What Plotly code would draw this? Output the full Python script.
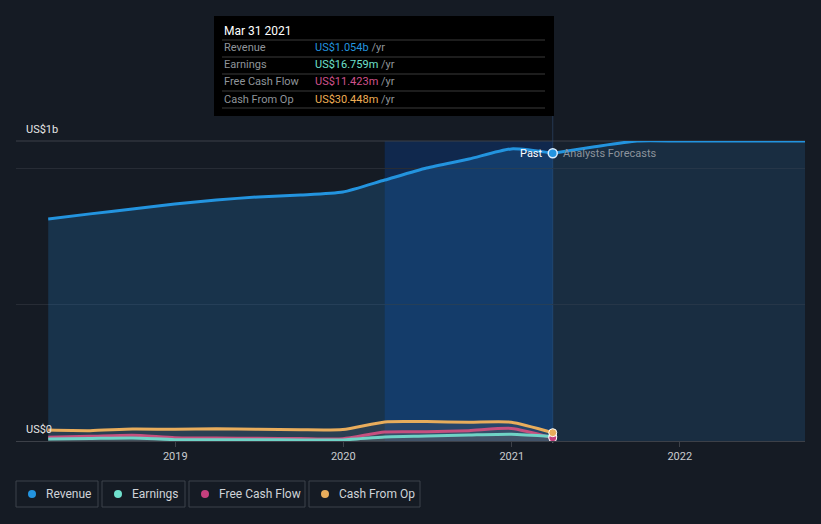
import plotly.graph_objects as go

# ---------------- data ----------------
past_dates = ["2018-03-31", "2018-06-30", "2018-09-30", "2018-12-31",
              "2019-03-31", "2019-06-30", "2019-09-30", "2019-12-31",
              "2020-03-31", "2020-06-30", "2020-09-30", "2020-12-31",
              "2021-03-31"]
revenue = [0.813e9, 0.832e9, 0.850e9, 0.868e9, 0.883e9, 0.894e9, 0.901e9,
           0.912e9, 0.956e9, 1.000e9, 1.033e9, 1.070e9, 1.054e9]
earnings = [7e6, 9e6, 11e6, 5e6, 5e6, 5e6, 4e6, 4e6, 15e6, 18e6, 22e6, 25e6, 16.759e6]
free_cash_flow = [14e6, 17e6, 21e6, 12e6, 11e6, 10e6, 9e6, 8e6, 33e6, 34e6, 38e6, 46e6, 11.423e6]
cash_from_op = [40e6, 38e6, 44e6, 43e6, 45e6, 43e6, 41e6, 42e6, 70e6, 71e6, 69e6, 69e6, 30.448e6]

fc_dates = ["2021-03-31", "2021-06-30", "2021-09-30", "2021-12-31",
            "2022-03-31", "2022-06-30", "2022-09-30"]
revenue_fc = [1.054e9, 1.078e9, 1.099e9, 1.099e9, 1.099e9, 1.099e9, 1.099e9]

tick_vals = ["2019-01-01", "2020-01-01", "2021-01-01", "2022-01-01"]
tick_text = ["2019", "2020", "2021", "2022"]

tooltip_date = "Mar 31 2021"
tooltip_rows = [("Revenue", "US$1.054b", "#2394df"),
                ("Earnings", "US$16.759m", "#6fe0cd"),
                ("Free Cash Flow", "US$11.423m", "#d0528c"),
                ("Cash From Op", "US$30.448m", "#eeae55")]

legend_items = [("Revenue", "#2394df"), ("Earnings", "#6fe0cd"),
                ("Free Cash Flow", "#c6407e"), ("Cash From Op", "#e8ad5c")]

# ---------------- layout helpers ----------------
W, H = 821, 524
L, R, T, B = 16, 805, 141, 441
BG = "#151b24"
FONT = "Roboto"


def px(x):
    return (x - L) / (R - L)


def py(y):
    return (B - y) / (B - T)


fig = go.Figure()

# revenue past
fig.add_trace(go.Scatter(
    x=past_dates, y=revenue, mode="lines",
    line=dict(color="#2394df", width=3, shape="spline", smoothing=0.6),
    fill="tozeroy", fillcolor="rgba(35,120,190,0.26)",
    hoverinfo="skip", showlegend=False, cliponaxis=False))
# revenue forecast
fig.add_trace(go.Scatter(
    x=fc_dates, y=revenue_fc, mode="lines",
    line=dict(color="#2394df", width=3, shape="spline", smoothing=0.6),
    fill="tozeroy", fillcolor="rgba(35,120,190,0.14)",
    hoverinfo="skip", showlegend=False, cliponaxis=False))

small = [(cash_from_op, "#e8ad5c"), (free_cash_flow, "#c6507f"), (earnings, "#6fd3c6")]
for vals, col in small:
    fig.add_trace(go.Scatter(
        x=past_dates, y=vals, mode="lines",
        line=dict(color=col, width=3, shape="spline", smoothing=0.6),
        fill="tozeroy", fillcolor="rgba(110,110,110,0.22)", opacity=0.9,
        hoverinfo="skip", showlegend=False, cliponaxis=False))

# end markers
fig.add_trace(go.Scatter(
    x=[past_dates[-1]], y=[earnings[-1]], mode="markers",
    marker=dict(size=8, color="#6fd3c6", line=dict(color="white", width=1)),
    hoverinfo="skip", showlegend=False, cliponaxis=False))
fig.add_trace(go.Scatter(
    x=[past_dates[-1]], y=[free_cash_flow[-1]], mode="markers",
    marker=dict(size=8, color="#c6407e", line=dict(color="white", width=1)),
    hoverinfo="skip", showlegend=False, cliponaxis=False))
fig.add_trace(go.Scatter(
    x=[past_dates[-1]], y=[cash_from_op[-1]], mode="markers",
    marker=dict(size=8, color="#e8ad5c", line=dict(color="white", width=1)),
    hoverinfo="skip", showlegend=False, cliponaxis=False))
fig.add_trace(go.Scatter(
    x=[past_dates[-1]], y=[revenue[-1]], mode="markers",
    marker=dict(size=9, color="#2394df", line=dict(color="#dceeff", width=1.5)),
    hoverinfo="skip", showlegend=False, cliponaxis=False))

shapes = []
# forecast region
shapes.append(dict(type="rect", xref="x", yref="paper", x0=fc_dates[0], x1=fc_dates[-1],
                   y0=0, y1=1, fillcolor="#18212d", line=dict(width=0), layer="below"))
# past-year highlight
shapes.append(dict(type="rect", xref="x", yref="paper", x0=past_dates[-5], x1=past_dates[-1],
                   y0=0, y1=1, fillcolor="rgba(8,64,150,0.36)", line=dict(width=0), layer="below"))
# top border line
shapes.append(dict(type="line", xref="paper", yref="paper", x0=0, x1=1, y0=1, y1=1,
                   line=dict(color="#3c4048", width=1), layer="below"))
# crosshair
shapes.append(dict(type="line", xref="x", yref="paper", x0=past_dates[-1], x1=past_dates[-1],
                   y0=0, y1=py(116), line=dict(color="rgba(50,80,120,0.55)", width=1), layer="below"))

# tooltip box
shapes.append(dict(type="rect", xref="paper", yref="paper", x0=px(214), x1=px(554),
                   y0=py(116), y1=py(16), fillcolor="#000000", line=dict(width=0)))
for yy in [40, 57, 74, 91, 108]:
    shapes.append(dict(type="line", xref="paper", yref="paper", x0=px(222), x1=px(545),
                       y0=py(yy), y1=py(yy), line=dict(color="#3a3a3a", width=1)))

annotations = []
annotations.append(dict(xref="paper", yref="paper", x=px(222), y=py(31), text=tooltip_date,
                        showarrow=False, xanchor="left", yanchor="middle",
                        font=dict(family=FONT, size=12, color="#ffffff")))
for i, (lab, val, col) in enumerate(tooltip_rows):
    yy = 48 + 17 * i
    annotations.append(dict(xref="paper", yref="paper", x=px(222), y=py(yy), text=lab,
                            showarrow=False, xanchor="left", yanchor="middle",
                            font=dict(family=FONT, size=11, color="#8f949a")))
    annotations.append(dict(xref="paper", yref="paper", x=px(313), y=py(yy),
                            text=f"<span style='color:{col}'>{val}</span> /yr",
                            showarrow=False, xanchor="left", yanchor="middle",
                            font=dict(family=FONT, size=11, color="#8f949a")))

# axis labels
annotations.append(dict(xref="paper", yref="paper", x=px(24), y=py(129), text="US$1b",
                        showarrow=False, xanchor="left", yanchor="middle",
                        font=dict(family=FONT, size=11, color="#e6e6e6")))
annotations.append(dict(xref="paper", yref="paper", x=px(24), y=py(429), text="US$0",
                        showarrow=False, xanchor="left", yanchor="middle",
                        font=dict(family=FONT, size=11, color="#e6e6e6")))

# past / forecast labels
annotations.append(dict(xref="paper", yref="paper", x=px(545), y=py(153), text="Past",
                        showarrow=False, xanchor="right", yanchor="middle",
                        font=dict(family=FONT, size=11, color="#ffffff")))
annotations.append(dict(xref="paper", yref="paper", x=px(561), y=py(153), text="Analysts Forecasts",
                        showarrow=False, xanchor="left", yanchor="middle",
                        font=dict(family=FONT, size=11, color="#8c939c")))

# legend boxes
boxes = [(16, 98), (102, 185), (189, 305), (309, 420)]
for (x0, x1), (lab, col) in zip(boxes, legend_items):
    shapes.append(dict(type="rect", xref="paper", yref="paper", x0=px(x0), x1=px(x1),
                       y0=py(507), y1=py(481), line=dict(color="#3d424b", width=1),
                       fillcolor="rgba(0,0,0,0)"))
    shapes.append(dict(type="circle", xref="paper", yref="paper", x0=px(x0 + 12), x1=px(x0 + 20),
                       y0=py(498), y1=py(490), fillcolor=col, line=dict(width=0)))
    annotations.append(dict(xref="paper", yref="paper", x=px(x0 + 28), y=py(494), text=lab,
                            showarrow=False, xanchor="left", yanchor="middle",
                            font=dict(family=FONT, size=12, color="#cfd3d8")))

fig.update_layout(
    width=W, height=H,
    margin=dict(l=L, r=W - R, t=T, b=H - B),
    paper_bgcolor=BG, plot_bgcolor=BG,
    font=dict(family=FONT, color="#cccccc"),
    shapes=shapes, annotations=annotations,
    showlegend=False,
    xaxis=dict(type="date", range=["2018-01-20", "2022-09-30"],
               tickvals=tick_vals, ticktext=tick_text,
               showgrid=False, zeroline=False,
               showline=True, linecolor="#3c4048", linewidth=1,
               ticks="outside", ticklen=5, tickcolor="#3c4048",
               tickfont=dict(family=FONT, size=11, color="#c9ccd0")),
    yaxis=dict(range=[0, 1.099e9], tickvals=[0, 0.5e9, 1e9],
               showticklabels=False, showgrid=True, gridcolor="#272c35",
               zeroline=False, showline=False, fixedrange=True),
)

fig.write_html("out.html")
